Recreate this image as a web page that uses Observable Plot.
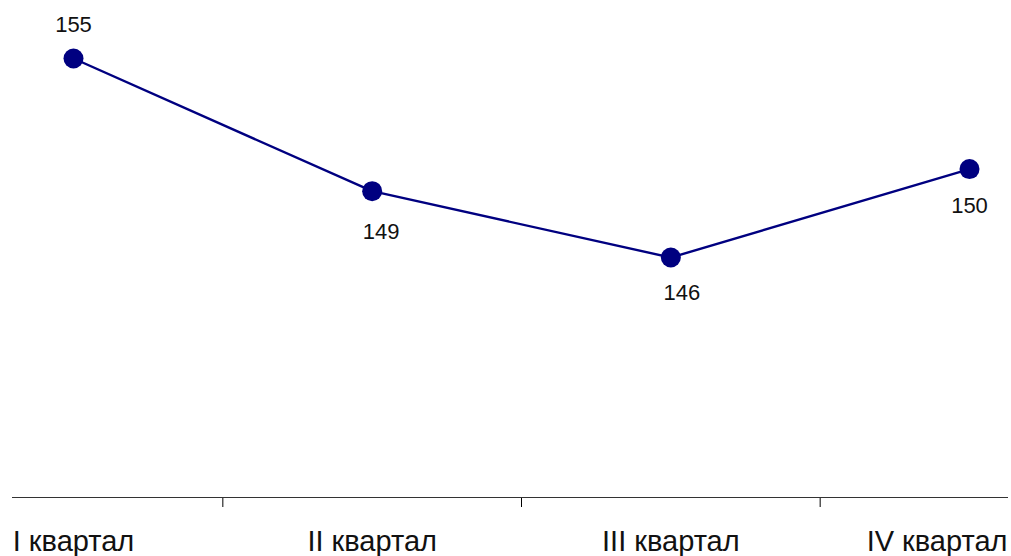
<!DOCTYPE html>
<html>
<head>
<meta charset="utf-8">
<script src="https://cdn.jsdelivr.net/npm/d3@7"></script>
<script src="https://cdn.jsdelivr.net/npm/@observablehq/plot@0.6"></script>
<style>
  html, body { margin: 0; padding: 0; background: #fff; }
  #chart svg { display: block; }
</style>
</head>
<body>
<div id="chart"></div>
<script>
const quarters = ["I квартал", "II квартал", "III квартал", "IV квартал"];
const values = [155, 149, 146, 150];
const dividerTicks = [0.5, 1.5, 2.5];

const data = quarters.map((q, i) => ({i, q, v: values[i]}));
const yMin = 135.15;
const lbl = {fontSize: 22, fill: "#111"};

const chart = Plot.plot({
  width: 1011,
  height: 556,
  marginLeft: 12,
  marginRight: 3,
  marginTop: 0,
  marginBottom: 59,
  style: {fontFamily: "'Liberation Sans', Arial, sans-serif", background: "#fff"},
  x: {
    type: "linear",
    domain: [0, 3],
    range: [73, 969],
    ticks: dividerTicks,
    tickSize: 10,
    tickFormat: () => "",
    label: null
  },
  y: {domain: [yMin, 155], range: [497, 58], axis: null},
  marks: [
    Plot.ruleY([yMin], {stroke: "#333", strokeWidth: 1.2}),
    Plot.line(data, {x: "i", y: "v", stroke: "#000080", strokeWidth: 2.4}),
    Plot.dot(data, {x: "i", y: "v", r: 10, fill: "#000080", stroke: "none"}),
    Plot.text(data.filter(d => d.i === 0), {x: "i", y: "v", text: d => String(d.v), dy: -34, ...lbl}),
    Plot.text(data.filter(d => d.i === 1), {x: "i", y: "v", text: d => String(d.v), dy: 41, dx: 9, ...lbl}),
    Plot.text(data.filter(d => d.i === 2), {x: "i", y: "v", text: d => String(d.v), dy: 35, dx: 11, ...lbl}),
    Plot.text(data.filter(d => d.i === 3), {x: "i", y: "v", text: d => String(d.v), dy: 37, ...lbl}),
    Plot.text(data.filter(d => d.i < 3), {x: "i", frameAnchor: "bottom", text: "q", dy: 53, fontSize: 29, fill: "#111"}),
    Plot.text(data.filter(d => d.i === 3), {x: "i", frameAnchor: "bottom", text: "q", dy: 53, dx: 38, textAnchor: "end", fontSize: 29, fill: "#111"})
  ]
});
document.getElementById("chart").appendChild(chart);
</script>
</body>
</html>
